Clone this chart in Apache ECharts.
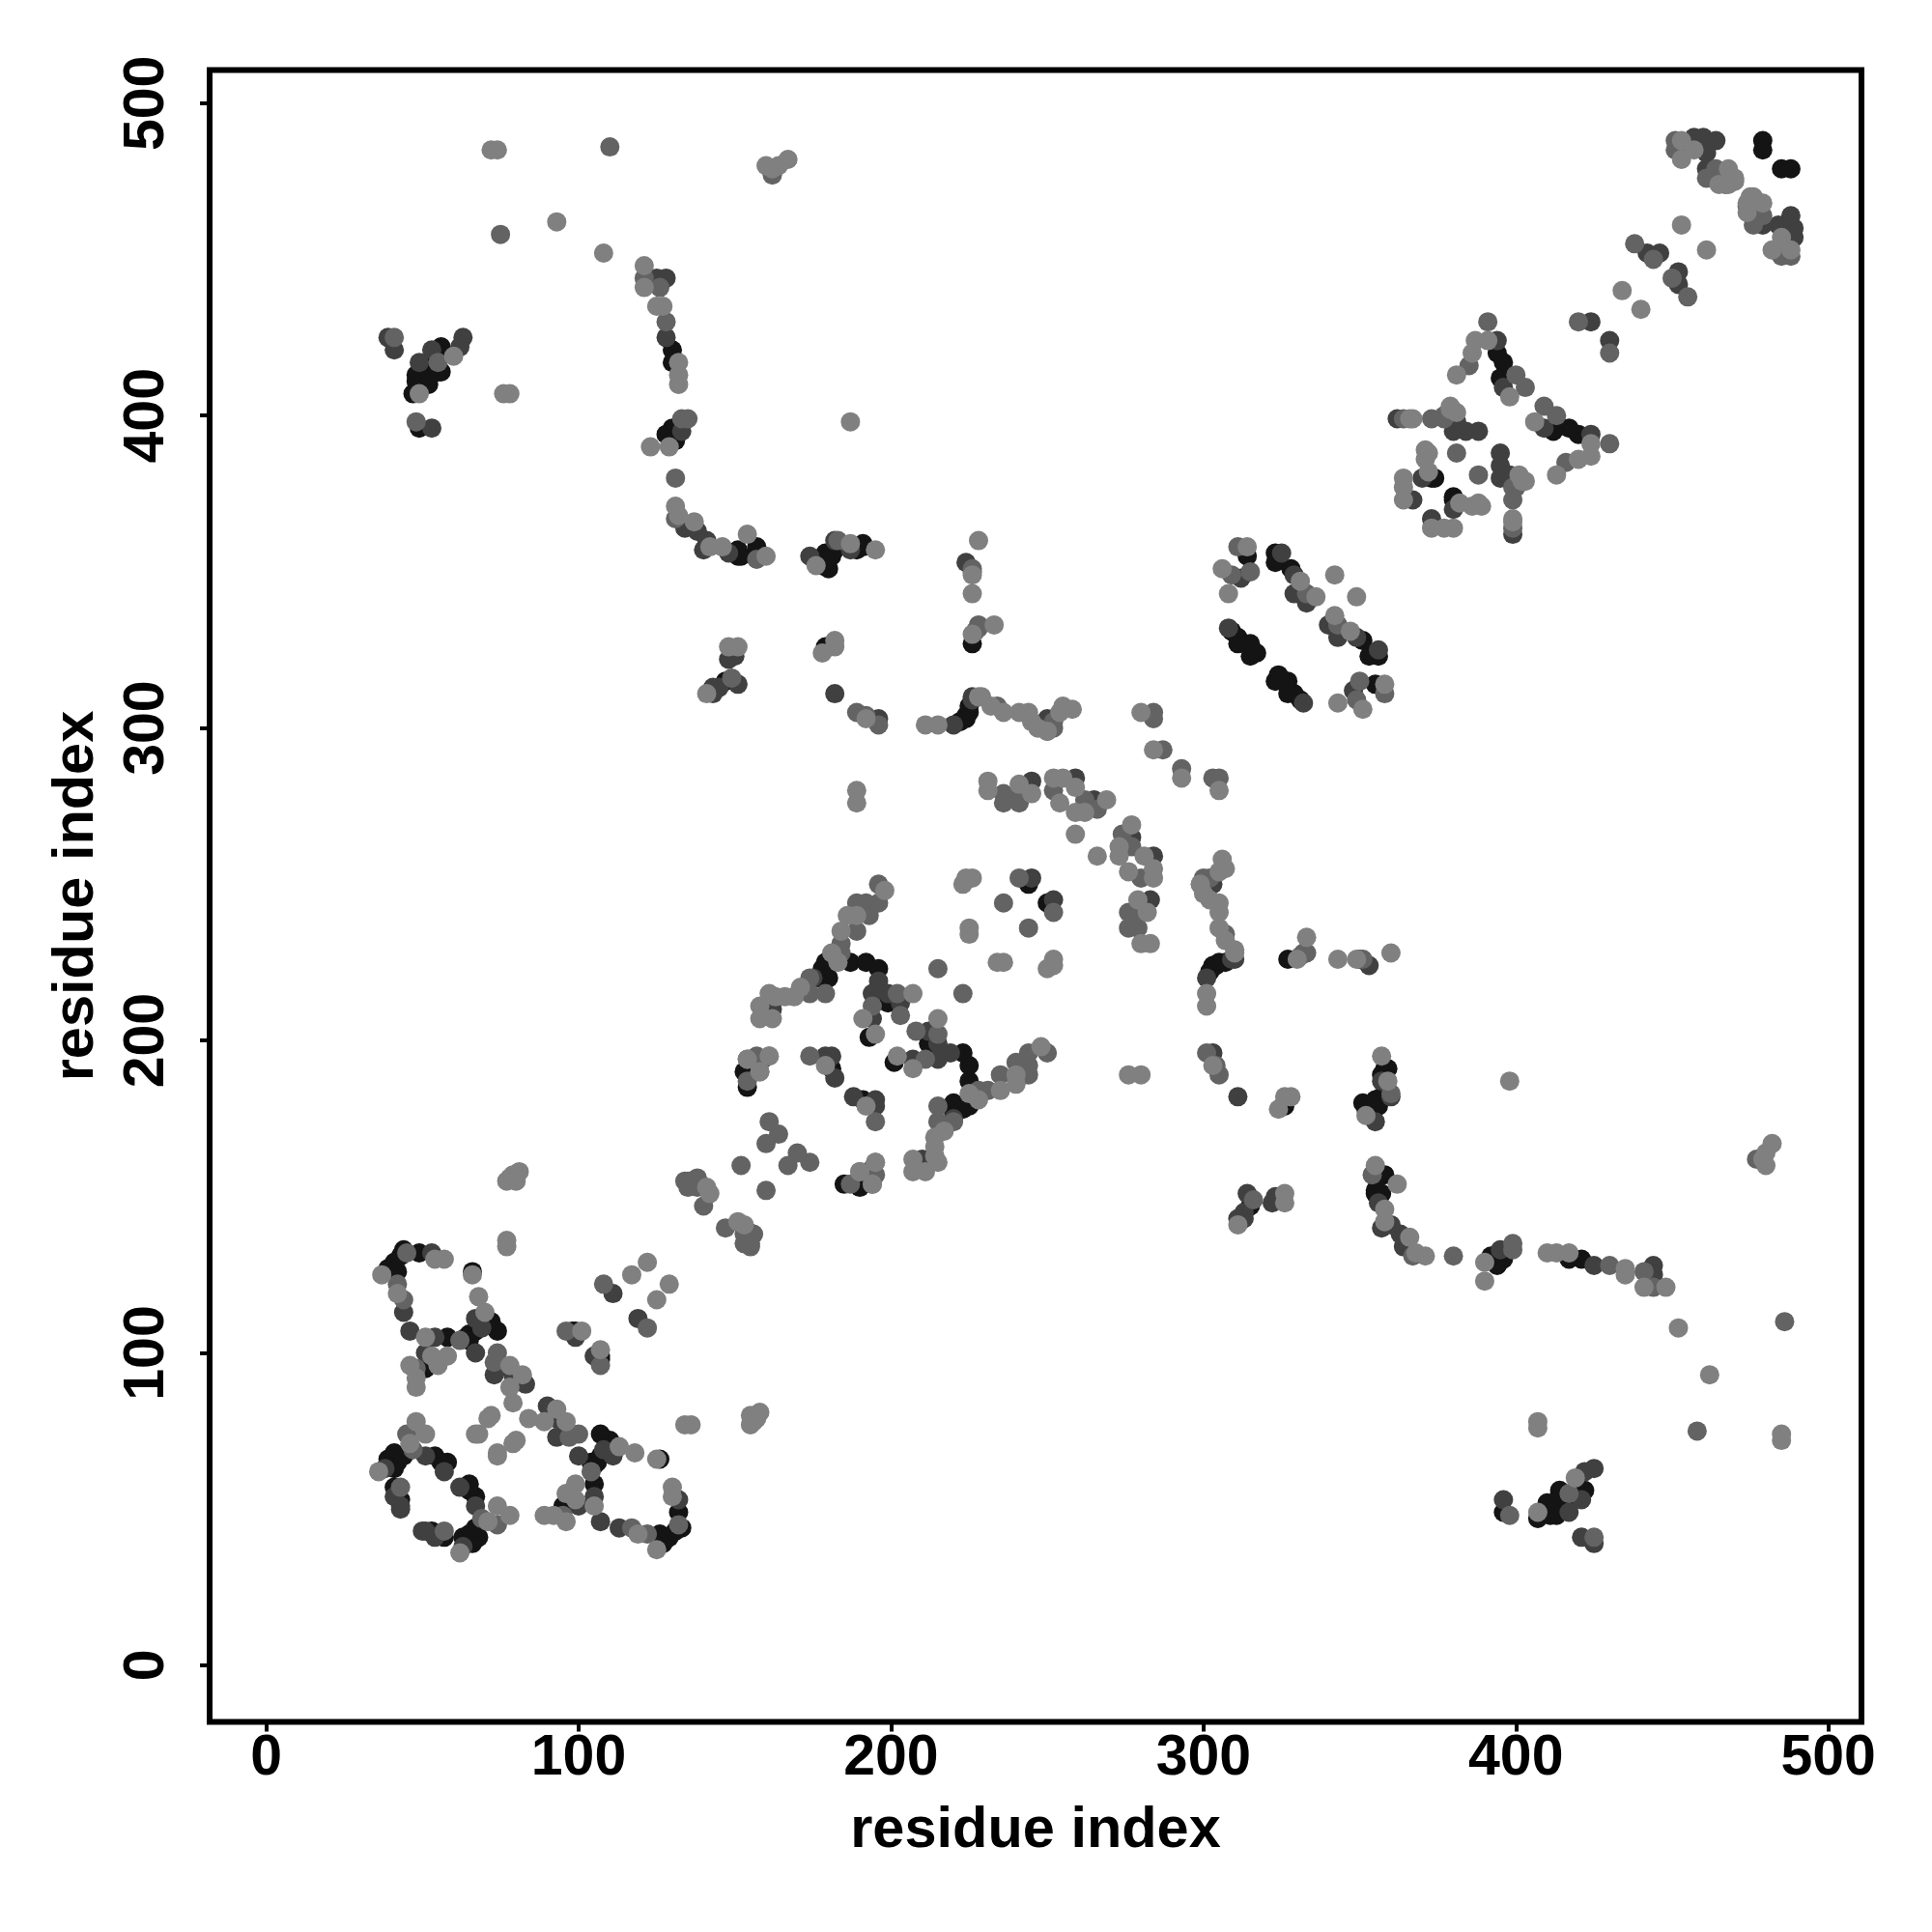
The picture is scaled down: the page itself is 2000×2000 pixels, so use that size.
<!DOCTYPE html>
<html><head><meta charset="utf-8">
<script src="https://cdn.jsdelivr.net/npm/echarts@6/dist/echarts.min.js"></script>
<style>html,body{margin:0;padding:0;background:#fff}#c{width:2000px;height:2000px}</style>
</head><body><div id="c"></div>
<script>
// contacts as [lower residue, higher residue]; a contact map shows each pair both ways
const blackContacts = [[39,127],[41,129],[42,126],[44,133],[43,131],[49,132],[58,105],[66,126],[72,110],[74,107],[67,107],[65,106],[64,105],[65,104],[51,95],
[39,66],[41,68],[42,65],[41,63],[44,67],[54,67],[56,65],[58,65],[41,57],[43,53],[98,107],[99,107],
[179,225],[178,223],[177,220],[180,220],[187,225],[192,225],[196,223],[199,212],[193,201],[153,190],[154,185],[181,191],
[226,327],[225,305],[224,303],[222,302],[224,304],[225,307],[314,355],[323,356],[323,353],[328,351],[309,331],[311,329],[315,327],[317,324],[315,323],[311,327],[244,250],
[179,326],[151,357],[151,355],[157,358],[179,356],[180,351],[181,355],[178,352],[191,358],[147,315],
[130,421],[130,417],[56,422],[56,414],[52,416],[48,413],[51,413],[48,411],[52,410],[47,407],[49,396],[130,396],[128,394],[131,392],
[479,488],[479,485],[394,420],[396,417],[395,412],[373,380],[372,381],[380,374],[55,414],[54,417],[50,412],[52,413],
[180,326],[189,357],[191,359],[182,357],[179,354],[157,357],[152,355]];
const darkContacts = [[53,132],[67,111],[69,108],[67,100],[44,113],[46,107],[54,105],[51,100],
[38,63],[51,67],[57,62],[41,54],[43,50],[43,51],[99,105],[74,95],[73,93],[79,93],[83,90],[111,119],
[175,220],[196,219],[194,215],[199,215],[203,212],[194,207],[162,210],[159,194],[179,195],[181,195],[182,188],
[245,252],[245,283],[226,350],[224,353],[312,348],[325,356],[329,349],[329,343],[333,340],[308,332],[226,310],[226,309],[220,301],[250,303],[259,284],[265,277],
[145,313],[143,313],[143,311],[150,323],[148,322],[151,314],[182,311],[196,303],[134,364],[138,363],[141,360],[148,356],[140,357],[174,355],[182,360],[187,357],
[39,425],[41,421],[63,425],[62,422],[53,421],[49,417],[53,396],[128,444],[125,444],[128,425],[133,395],
[457,489],[460,489],[464,488],[461,484],[461,479],[442,452],[446,452],[424,430],[394,424],[362,399],[381,398],[380,395],[388,395],[384,395],[370,380],[367,373],[396,409]];
const midContacts = [[42,122],[44,117],[45,132],[62,104],[48,95],[47,69],[45,74],[43,57],[74,100],[73,97],[96,107],[108,122],
[196,250],[189,244],[192,244],[196,244],[193,240],[189,235],[184,231],[184,228],[174,220],[174,215],[179,215],[202,215],[194,211],[203,208],
[154,194],[157,195],[154,187],[174,195],[161,174],[164,170],[160,167],[152,160],[134,155],[135,155],[138,156],[139,154],[135,153],[138,153],[140,147],
[215,223],[236,244],[241,252],[241,276],[236,276],[236,279],[239,278],[252,280],[262,277],[266,274],[226,351],[227,331],[228,333],[228,332],[234,307],[252,302],[250,299],[252,300],[284,305],[284,303],[287,293],
[309,349],[315,350],[311,358],[333,343],[189,305],[192,304],[196,301],[149,316],[131,367],[157,354],[183,360],
[110,486],[75,458],[41,425],[162,477],[121,444],[126,441],[128,430],[133,399],[135,399],[131,380],[48,398],[55,417],
[451,488],[451,485],[438,455],[444,450],[420,430],[391,430],[385,416],[400,413],[403,409],[373,399],[377,400],[381,388],[464,479],[461,476],[377,399],[364,399],[467,474]];
const lightContacts = [[37,125],[54,130],[57,130],[42,119],[51,105],[66,125],[68,118],[70,113],[53,99],[58,99],[55,96],[46,96],[48,92],[48,89],
[36,62],[46,71],[48,78],[51,74],[78,96],[82,93],[78,89],[79,84],[72,80],[71,79],[68,74],[67,74],
[77,155],[79,157],[81,158],[78,156],[80,155],[77,136],[77,134],[101,107],[117,125],[122,129],[141,153],[142,151],
[198,248],[186,240],[189,240],[184,235],[181,228],[183,225],[171,217],[169,214],[166,214],[163,214],[161,215],[158,211],[162,207],[158,207],[207,215],[191,207],[195,202],
[161,195],[158,190],[179,192],[190,158],[195,161],[194,154],[224,252],[226,252],[223,250],[225,236],[225,234],
[228,360],[226,349],[226,343],[233,333],[226,330],[229,310],[228,310],[232,307],[236,305],[241,305],[244,305],[245,302],[247,300],[254,305],[255,307],[258,306],[250,299],[211,301],[215,301],
[231,283],[231,280],[241,282],[245,279],[252,284],[255,284],[254,276],[259,281],[259,273],[269,277],[262,273],[259,266],[280,305],[284,293],
[314,358],[306,351],[308,343],[331,347],[336,342],[342,349],
[151,326],[148,326],[141,311],[182,328],[182,326],[178,324],[192,303],[131,371],[132,368],[137,366],[142,358],[146,358],[154,362],[160,355],[176,352],[187,359],[195,357],
[72,485],[74,485],[160,480],[164,480],[167,482],[162,479],[93,462],[108,452],[121,448],[121,441],[125,435],[127,435],[132,417],[132,413],[132,410],[129,390],[123,390],[60,419],[49,407],[78,407],[76,407],
[187,398],[189,276],[189,280],[453,461],[434,440],[387,424],[391,424],[386,420],[381,413],[398,406],[379,402],[381,401],[366,399],[364,380],[364,377],[364,373],[371,389],[371,386],[367,399],[372,382],[372,388],[379,403],
[453,488],[453,482],[457,485],[468,479],[470,476],[465,474],[468,474],[470,475]];
const tickValues = [0,100,200,300,400,500];
const axisTitle = 'residue index';
const shades = {black:'#141414', dark:'#404040', mid:'#636363', light:'#808080'};

const bothWays = list => list.concat(list.map(p => [p[1], p[0]]));
const font = 'Liberation Sans';
const axis = (nameGap, margin, rotate) => ({
  type:'value', min:-18.1, max:510.6, name:axisTitle, nameLocation:'middle', nameGap:nameGap,
  nameTextStyle:{fontFamily:font,fontWeight:'bold',fontSize:59.5,color:'#000'},
  axisLine:{show:false,onZero:false}, splitLine:{show:false},
  axisTick:{show:true,length:10,inside:false,customValues:tickValues,lineStyle:{color:'#000',width:4}},
  axisLabel:{show:true,customValues:tickValues,margin:margin,rotate:rotate,fontFamily:font,fontWeight:'bold',fontSize:59,color:'#000',hideOverlap:false}
});
const scatter = (list,color) => ({type:'scatter',data:bothWays(list),symbol:'circle',symbolSize:20,itemStyle:{color:color,opacity:1},silent:true,animation:false});
const chart = echarts.init(document.getElementById('c'),null,{renderer:'canvas'});
chart.setOption({
  backgroundColor:'#fff', animation:false,
  grid:{left:217,top:72.5,width:1710,height:1710,show:true,borderColor:'#000',borderWidth:6,backgroundColor:'#fff'},
  xAxis:axis(83,9,0),
  yAxis:axis(107,35,90),
  series:[scatter(blackContacts,shades.black),scatter(darkContacts,shades.dark),scatter(midContacts,shades.mid),scatter(lightContacts,shades.light)]
});
</script></body></html>
